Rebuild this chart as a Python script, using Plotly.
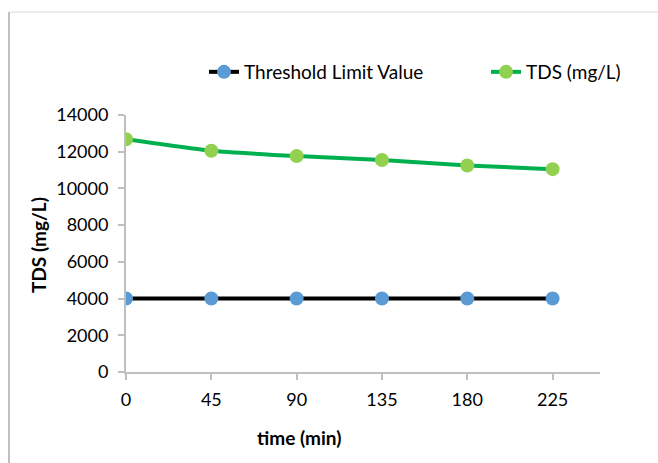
import plotly.graph_objects as go

time_min = [0, 45, 90, 135, 180, 225]
threshold = [4000, 4000, 4000, 4000, 4000, 4000]
tds = [12680, 12050, 11760, 11550, 11250, 11050]
x_ticks = [0, 45, 90, 135, 180, 225]
y_ticks = [0, 2000, 4000, 6000, 8000, 10000, 12000, 14000]

W, H = 658, 463
L, R, T, B = 126, 600, 115, 372

def px_x(p):
    return (p - L) / (R - L)

def px_y(p):
    return (B - p) / (B - T)

fig = go.Figure()
fig.add_trace(go.Scatter(
    x=time_min, y=threshold, mode="lines+markers", name="Threshold Limit Value",
    line=dict(color="#000000", width=4),
    marker=dict(color="#5b9bd5", size=14),
    legend="legend",
))
fig.add_trace(go.Scatter(
    x=time_min, y=tds, mode="lines+markers", name="TDS (mg/L)",
    line=dict(color="#00b050", width=4, shape="spline", smoothing=0.3),
    marker=dict(color="#92d050", size=14),
    legend="legend2",
))

axis_col = "#bfbfbf"
font_fam = "Lato, 'Open Sans', sans-serif"

fig.update_layout(
    width=W, height=H,
    margin=dict(l=L, r=W - R, t=T, b=H - B),
    paper_bgcolor="white", plot_bgcolor="white",
    font=dict(family=font_fam, size=18, color="#000000"),
    xaxis=dict(range=[0, 250], tickvals=x_ticks, ticktext=[str(v) for v in x_ticks],
               showgrid=False, zeroline=False,
               showline=True, linecolor=axis_col, linewidth=2,
               ticks="outside", ticklen=6, tickcolor=axis_col, tickwidth=1.5,
               ticklabelstandoff=4,
               tickfont=dict(size=18, family=font_fam)),
    yaxis=dict(range=[0, 14000], tickvals=y_ticks, ticktext=[str(v) for v in y_ticks],
               showgrid=False, zeroline=False,
               showline=True, linecolor=axis_col, linewidth=2,
               ticks="outside", ticklen=6, tickcolor=axis_col, tickwidth=1.5,
               ticklabelstandoff=6,
               tickfont=dict(size=18, family=font_fam)),
    showlegend=True,
    legend=dict(x=px_x(204), y=px_y(72), xanchor="left", yanchor="middle",
                bgcolor="rgba(0,0,0,0)", font=dict(size=19, family=font_fam)),
    legend2=dict(x=px_x(486), y=px_y(72), xanchor="left", yanchor="middle",
                 bgcolor="rgba(0,0,0,0)", font=dict(size=19, family=font_fam)),
    annotations=[
        dict(text="<b>time (min)</b>", xref="paper", yref="paper",
             x=px_x(299), y=px_y(437), xanchor="center", yanchor="middle",
             showarrow=False, font=dict(size=19, family=font_fam)),
        dict(text="<b>TDS (mg/L)</b>", xref="paper", yref="paper",
             x=px_x(38), y=px_y(245), xanchor="center", yanchor="middle",
             textangle=-90, showarrow=False, font=dict(size=19, family=font_fam)),
    ],
    shapes=[
        dict(type="line", xref="paper", yref="paper",
             x0=px_x(9), x1=px_x(9), y0=px_y(470), y1=px_y(12),
             line=dict(color="#808080", width=1)),
        dict(type="line", xref="paper", yref="paper",
             x0=px_x(9), x1=px_x(670), y0=px_y(12), y1=px_y(12),
             line=dict(color="#d9d9d9", width=1)),
    ],
)

fig.write_html("out.html", config={"displayModeBar": False},
               post_script="document.body.style.margin='0';")
